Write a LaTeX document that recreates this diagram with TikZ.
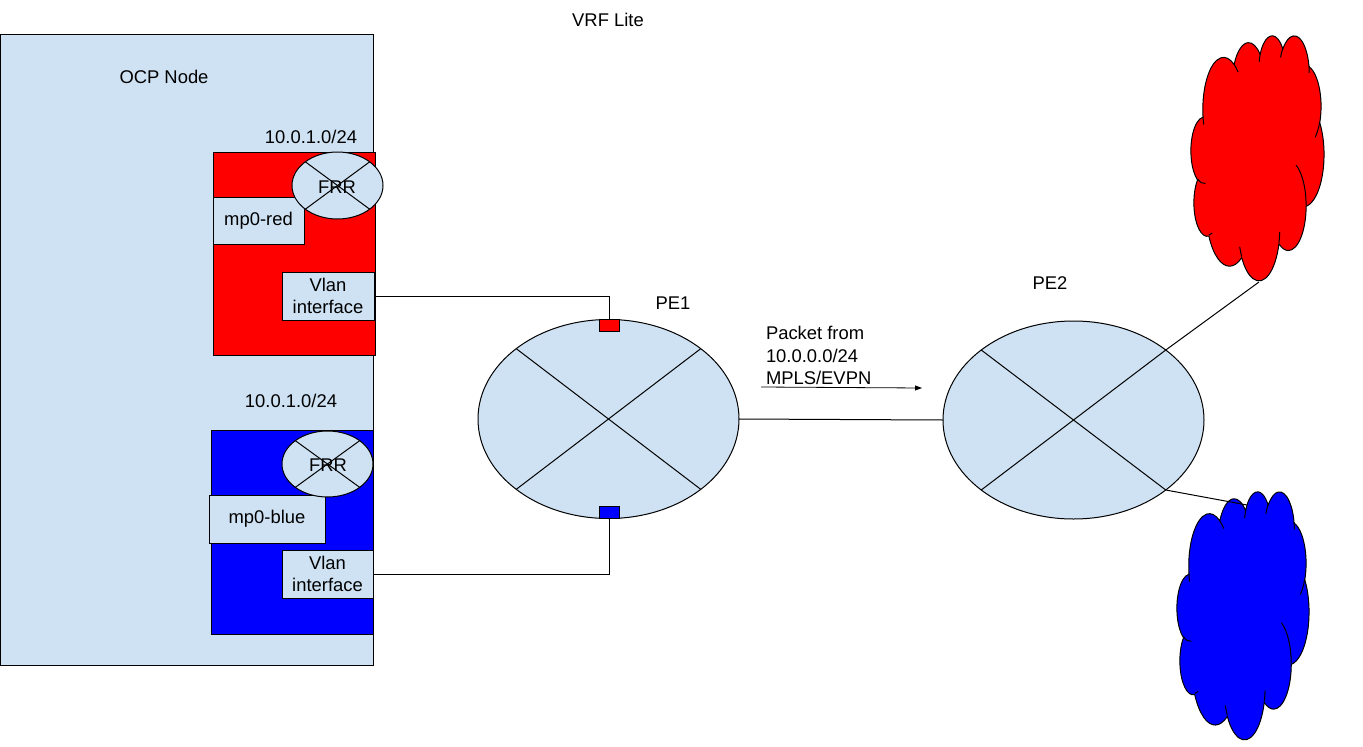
\documentclass[tikz,border=0pt]{standalone}
\usepackage{fontspec}
\setmainfont{Liberation Sans}
\usetikzlibrary{shapes.geometric,arrows.meta,calc}
\definecolor{lb}{HTML}{CFE2F3}
\definecolor{rd}{HTML}{FF0000}
\definecolor{bl}{HTML}{0000FF}
\newcommand\cldw{133}\newcommand\cldh{245}\newcommand\cldx{0}\newcommand\cldy{0}
\newcommand\cldpath{}
% all lengths below are in hundredths of the 43200-unit shape box (i.e. out of 432)
\newcommand\carc[4]{%
  \pgfmathsetmacro\crx{#1/432*\cldw}%
  \pgfmathsetmacro\cry{#2/432*\cldh}%
  \pgfmathsetmacro\cta{atan2(#1*sin(#3),#2*cos(#3))}%
  \pgfmathsetmacro\ctb{atan2(#1*sin(#3+#4),#2*cos(#3+#4))}%
  \pgfmathsetmacro\cdd{\ctb-\cta}%
  \pgfmathsetmacro\cdd{\cdd<0 ? \cdd+360 : \cdd}%
  \xdef\cldpath{\cldpath arc[start angle={-\cta}, delta angle={-\cdd}, x radius=\crx pt, y radius=\cry pt]}%
}
\newcommand\cstroke[6]{%
  \gdef\cldpath{}%
  \carc{#3}{#4}{#5}{#6}%
  \pgfmathsetmacro\cpx{\cldx+#1/432*\cldw}%
  \pgfmathsetmacro\cpy{\cldy+#2/432*\cldh}%
  \edef\ctmp{\noexpand\draw[cloudst] (\cpx,\cpy) \cldpath;}\ctmp
}
\newcommand\drawcloud[5]{%
  \def\cldx{#1}\def\cldy{#2}\def\cldw{#3}\def\cldh{#4}%
  \gdef\cldpath{}%
  \carc{67.53}{91.90}{-190.48748}{123.78053}%
  \carc{53.33}{72.67}{-144.10238}{89.94523}%
  \carc{43.65}{59.45}{-145.80792}{99.72302}%
  \carc{48.57}{65.95}{-130.98607}{117.24173}%
  \carc{53.33}{72.73}{-78.70888}{109.02692}%
  \carc{67.75}{92.20}{-46.26725}{130.269}%
  \carc{57.85}{78.67}{0.62502}{114.03333}%
  \carc{67.52}{92.15}{22.4516}{115.17255}%
  \carc{77.20}{105.43}{66.24263}{75.71102}%
  \carc{43.60}{59.18}{-274.94208}{146.73557}%
  \carc{43.45}{59.45}{-246.8285}{152.51885}%
  \pgfmathsetmacro\cpx{\cldx+39.00/432*\cldw}%
  \pgfmathsetmacro\cpy{\cldy+143.70/432*\cldh}%
  \edef\ctmp{\noexpand\filldraw[cloudst, fill=#5] (\cpx,\cpy) \cldpath -- cycle;}\ctmp
  \cstroke{46.93}{261.77}{43.45}{59.45}{86.742}{26.4295}%
  \cstroke{69.28}{348.99}{43.60}{59.18}{73.61047}{11.44747}%
  \cstroke{164.78}{390.90}{67.52}{92.15}{137.62415}{14.0811}%
  \cstroke{288.27}{347.51}{67.52}{92.15}{6.45327}{15.99835}%
  \cstroke{341.29}{229.54}{57.85}{78.67}{-70.29235}{70.91737}%
  \cstroke{417.98}{153.54}{53.33}{72.73}{30.31803}{27.7515}%
  \cstroke{383.24}{54.26}{48.57}{65.95}{-13.74433}{14.86608}%
  \cstroke{290.78}{39.52}{48.57}{65.95}{-149.18145}{18.19588}%
  \cstroke{221.41}{47.20}{43.65}{59.45}{-163.49427}{17.69812}%
  \cstroke{140.00}{51.92}{67.53}{91.90}{-66.70695}{12.31935}%
  \cstroke{41.27}{157.89}{67.53}{91.90}{157.65435}{11.85817}%
}
\begin{document}
\begin{tikzpicture}[x=1pt,y=-1pt,
  every node/.style={font=\fontsize{18.4}{22}\selectfont, inner sep=0pt, outer sep=0pt, text=black},
  ln/.style={line width=1pt, draw=black},
  cloudst/.style={line width=1pt, draw=black, line join=round},
  rbox/.style={rectangle, draw=black, line width=1pt, fill=#1},
  oval/.style={ellipse, draw=black, line width=1pt, fill=lb},
  port/.style={rectangle, draw=black, line width=1pt, fill=#1, minimum width=20pt, minimum height=12pt}
]
\useasboundingbox (0,0) rectangle (1363,747);

% title
\node (title) at (608,20) {VRF Lite};

% OCP node
\node[rbox=lb, minimum width=372.5pt, minimum height=631pt] (ocp) at (186.75,349.5) {};
\node (ocplbl) at (164,77) {OCP Node};

% red VRF
\node (redsub) at (311,137) {10.0.1.0/24};
\node[rbox=rd, minimum width=162pt, minimum height=203pt] (redbox) at (294,253.5) {};
\node[rbox=lb, minimum width=91pt, minimum height=47pt] (mpred) at (258.5,220.5) {mp0-red};
\node[oval, minimum width=91pt, minimum height=67pt] (frrred) at (337.5,185.5) {};
\draw[ln] (frrred.north east) -- (frrred.south west);
\draw[ln] (frrred.north west) -- (frrred.south east);
\node (frrredt) at (337,187) {FRR};
\node[rbox=lb, minimum width=92pt, minimum height=48pt, align=center] (vlanred) at (328,296) {Vlan\\interface};

% blue VRF
\node (bluesub) at (291,401) {10.0.1.0/24};
\node[rbox=bl, minimum width=162pt, minimum height=204pt] (bluebox) at (292,532) {};
\node[rbox=lb, minimum width=116pt, minimum height=48pt] (mpblue) at (267,519) {mp0-blue};
\node[oval, minimum width=91pt, minimum height=66pt] (frrblue) at (327.5,464) {};
\draw[ln] (frrblue.north east) -- (frrblue.south west);
\draw[ln] (frrblue.north west) -- (frrblue.south east);
\node (frrbluet) at (328,465) {FRR};
\node[rbox=lb, minimum width=91pt, minimum height=48pt, align=center] (vlanblue) at (327.5,574) {Vlan\\interface};

% PE1
\node[oval, minimum width=261pt, minimum height=199pt] (pe1) at (608.5,419) {};
\draw[ln] (pe1.north east) -- (pe1.south west);
\draw[ln] (pe1.north west) -- (pe1.south east);
\node (pe1lbl) at (673,303) {PE1};
\node[port=rd] (pred) at (609,325) {};
\node[port=bl] (pblue) at (609,512) {};
\draw[ln] (vlanred.east) -| (pred.north);
\draw[ln] (vlanblue.east) -| (pblue.south);

% PE2
\node[oval, minimum width=261pt, minimum height=198pt] (pe2) at (1073.5,420) {};
\draw[ln] (pe2.north east) -- (pe2.south west);
\draw[ln] (pe2.north west) -- (pe2.south east);
\node (pe2lbl) at (1050,283) {PE2};
\draw[ln] (pe1.east) -- (pe2.west);

% packet label and arrow
\node[anchor=west, align=left, font=\fontsize{18.4}{22.5}\selectfont] (pkt) at (766,355.5) {Packet from\\10.0.0.0/24\\MPLS/EVPN};
\coordinate (arrs) at (761,387);
\coordinate (arre) at (922,388);
\draw[line width=0.8pt, -{Triangle[length=7pt,width=5pt]}] (arrs) -- (arre);

% clouds
\drawcloud{1191}{35}{133}{245}{rd}
\drawcloud{1177}{491}{132}{248}{bl}
\coordinate (rcbot) at (1259,282);
\coordinate (bcin) at (1247,505);
\draw[ln] (pe2.north east) -- (rcbot);
\draw[ln] (pe2.south east) -- (bcin);
\end{tikzpicture}
\end{document}
